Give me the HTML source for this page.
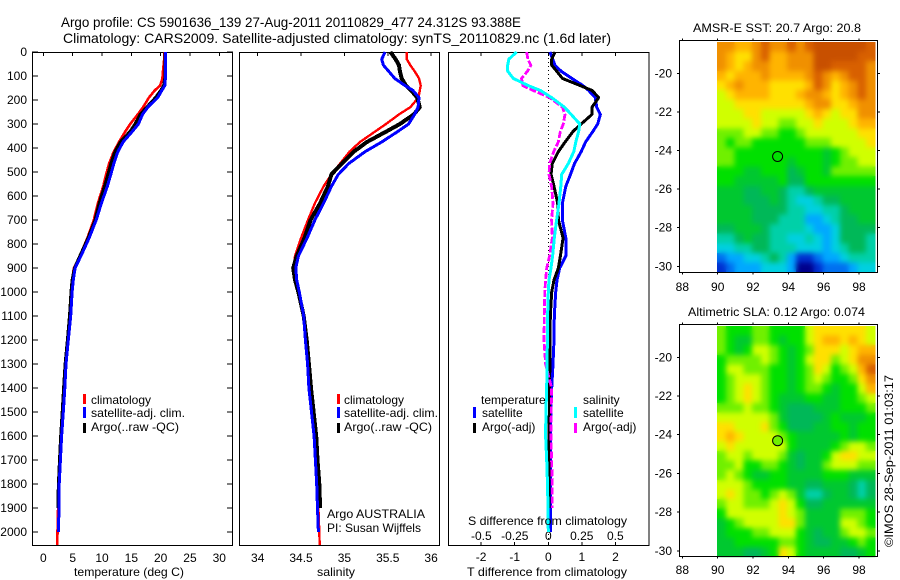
<!DOCTYPE html>
<html lang="en">
<head>
<meta charset="utf-8">
<title>Argo profile 5901636_139</title>
<style>
html,body{margin:0;padding:0;background:#fff}
svg{display:block}
text{font-family:"Liberation Sans",sans-serif;font-size:12px;fill:#000}
.title{font-size:14px}
</style>
</head>
<body>
<svg id="chart" xmlns="http://www.w3.org/2000/svg" width="900" height="580" viewBox="0 0 900 580">
  <defs>
    <filter id="map-smooth" x="0" y="0" width="1" height="1" color-interpolation-filters="sRGB">
      <feGaussianBlur in="SourceGraphic" stdDeviation="2.6" result="soft"/>
      <feMerge>
        <feMergeNode in="SourceGraphic"/>
        <feMergeNode in="soft"/>
      </feMerge>
    </filter>
  </defs>
  <rect x="0" y="0" width="900" height="580" fill="#fff"/>
  <text class="title" x="61" y="27" textLength="460" lengthAdjust="spacingAndGlyphs">Argo profile: CS 5901636_139 27-Aug-2011 20110829_477 24.312S 93.388E</text>
  <text class="title" x="63" y="43" textLength="548" lengthAdjust="spacingAndGlyphs">Climatology: CARS2009. Satellite-adjusted climatology: synTS_20110829.nc (1.6d later)</text>

  <g id="plots"></g>

  <text x="74" y="576" textLength="110" lengthAdjust="spacingAndGlyphs">temperature (deg C)</text>
  <text x="317" y="576" textLength="38" lengthAdjust="spacingAndGlyphs">salinity</text>
  <text x="467" y="576" textLength="160" lengthAdjust="spacingAndGlyphs">T difference from climatology</text>
  <text x="468" y="525" textLength="159" lengthAdjust="spacingAndGlyphs">S difference from climatology</text>

  <g>
    <rect x="83" y="394" width="3" height="10" fill="#f00"/>
    <text x="91" y="404">climatology</text>
    <rect x="83" y="407" width="3" height="11" fill="#00f"/>
    <text x="91" y="417" textLength="94" lengthAdjust="spacingAndGlyphs">satellite-adj. clim.</text>
    <rect x="83" y="423" width="3" height="10" fill="#000"/>
    <text x="91" y="431" textLength="88" lengthAdjust="spacingAndGlyphs">Argo(..raw -QC)</text>
  </g>
  <g>
    <rect x="337" y="394" width="3" height="10" fill="#f00"/>
    <text x="344" y="404">climatology</text>
    <rect x="337" y="407" width="3" height="11" fill="#00f"/>
    <text x="344" y="417" textLength="94" lengthAdjust="spacingAndGlyphs">satellite-adj. clim.</text>
    <rect x="337" y="423" width="3" height="10" fill="#000"/>
    <text x="344" y="431" textLength="88" lengthAdjust="spacingAndGlyphs">Argo(..raw -QC)</text>
    <text x="327" y="518" textLength="98" lengthAdjust="spacingAndGlyphs">Argo AUSTRALIA</text>
    <text x="327" y="532" textLength="94" lengthAdjust="spacingAndGlyphs">PI: Susan Wijffels</text>
  </g>
  <g>
    <text x="481" y="404">temperature</text>
    <rect x="473" y="407" width="3" height="11" fill="#00f"/>
    <text x="482" y="417">satellite</text>
    <rect x="473" y="423" width="3" height="10" fill="#000"/>
    <text x="482" y="431">Argo(-adj)</text>
    <text x="583" y="404">salinity</text>
    <rect x="574" y="407" width="3" height="11" fill="#0ff"/>
    <text x="583" y="417">satellite</text>
    <rect x="574" y="423" width="3" height="10" fill="#f0f"/>
    <text x="583" y="431">Argo(-adj)</text>
  </g>

  <text x="693" y="32" textLength="168" lengthAdjust="spacingAndGlyphs">AMSR-E SST: 20.7 Argo: 20.8</text>
  <text x="688" y="316" textLength="177" lengthAdjust="spacingAndGlyphs">Altimetric SLA: 0.12 Argo: 0.074</text>
  <text transform="translate(893,547) rotate(-90)" textLength="172" lengthAdjust="spacingAndGlyphs">©IMOS 28-Sep-2011 01:03:17</text>
</svg>

<script>
/* ---- profile data ---- */
const depths = [0,30,55,80,110,140,160,190,230,260,300,330,375,415,465,510,560,630,700,775,850,900,950,1000,1100,1200,1300,1400,1500,1600,1700,1800,1900,2000,2054];

const tempClim = [20.6,20.6,20.5,20.4,20.3,19.9,19.0,18.0,17.0,16.1,14.8,14.0,12.9,12.0,11.2,10.7,10.2,9.3,8.6,7.5,6.2,5.2,4.9,4.7,4.55,4.15,3.8,3.6,3.35,3.0,2.8,2.6,2.5,2.4,2.37];
const tempArgo = [20.7,20.7,20.7,20.7,20.7,20.5,20.0,19.1,17.6,16.5,15.6,14.8,13.1,12.2,11.5,11.0,10.4,9.5,8.8,7.6,6.2,5.3,4.9,4.7,4.45,4.1,3.7,3.45,3.2,2.95,2.75,2.55,2.45];
const tempSat = [20.8,20.8,20.8,20.8,20.8,20.7,20.2,19.5,17.8,16.9,16.2,15.2,13.6,12.7,12.0,11.5,10.9,9.9,9.0,7.8,6.4,5.4,5.1,4.9,4.65,4.25,3.86,3.65,3.4,3.1,2.9,2.7,2.66,2.55];

const salClim = [35.72,35.72,35.76,35.81,35.86,35.88,35.87,35.855,35.76,35.63,35.48,35.36,35.18,35.06,34.95,34.85,34.76,34.66,34.58,34.50,34.43,34.42,34.44,34.47,34.53,34.56,34.58,34.60,34.63,34.65,34.67,34.69,34.70,34.71,34.715];
const salArgo = [35.53,35.59,35.63,35.64,35.66,35.71,35.77,35.84,35.87,35.80,35.64,35.49,35.26,35.11,34.97,34.85,34.81,34.72,34.61,34.54,34.45,34.41,34.43,34.47,34.53,34.565,34.59,34.615,34.645,34.675,34.69,34.71,34.72];
const salSat = [35.47,35.43,35.45,35.51,35.58,35.70,35.79,35.86,35.85,35.81,35.74,35.62,35.43,35.24,35.05,34.93,34.85,34.76,34.66,34.57,34.47,34.44,34.45,34.48,34.53,34.55,34.575,34.59,34.62,34.65,34.665,34.68,34.69,34.70];

const dTempSat = [.05,.13,.2,.38,.7,1.03,1.2,1.40,1.44,1.55,1.47,1.33,1.11,.98,.78,.66,.52,.42,.42,.52,.52,.34,.26,.22,.18,.17,.14,.1,.08,.06,.06,.06,.06,.06];
const dTempArgo = [.2,.1,.1,.25,.42,.95,1.3,1.5,1.3,1.3,.98,.74,.5,.3,.12,.08,.17,.28,.3,.44,.36,.3,.17,.1,.06,.05,.05,.03,.03,.02,.02,.02,.02];
const dSalArgo = [-.161,-.152,-.13,-.155,-.2,-.19,-.115,.01,.105,.125,.112,.09,.075,.04,.01,.005,.025,.035,.025,.03,.01,-.012,-.02,-.026,-.03,-.032,-.02,.025,.022,.02,.025,.03,.03];
const dSalSat = [-.236,-.295,-.303,-.303,-.261,-.15,-.06,.025,.12,.17,.235,.227,.205,.19,.149,.1,.093,.08,.062,.045,.032,.02,.005,0,-.005,-.007,-.01,-.012,-.018,-.02,-.012,-.006,-.002,0];

/* ---- tick labels ---- */
const depthTicks = [0,100,200,300,400,500,600,700,800,900,1000,1100,1200,1300,1400,1500,1600,1700,1800,1900,2000];
const tempTicks = [0,5,10,15,20,25,30];
const salTicks = ['34','34.5','35','35.5','36'];
const dTempTicks = [-2,-1,0,1,2];
const dSalTicks = ['-0.5','-0.25','0','0.25','0.5'];
const lonTicks = [88,90,92,94,96,98];
const latTicks = [-20,-22,-24,-26,-28,-30];

/* ---- map cells: colour-scale level, north to south, 90E to 99E ---- */
const sstLevels = [
[13,13,12,12,13,14,13,13,14,13,14,15,15,15,15,15,15,14],
[13,12,11,11,13,14,12,12,13,13,13,15,15,15,15,15,14,14],
[13,12,11,12,13,13,12,12,13,13,13,15,15,14,14,14,14,13],
[12,11,12,12,12,13,12,12,12,12,13,14,13,12,13,14,14,13],
[11,12,13,12,12,12,11,11,11,11,12,14,13,11,12,13,14,13],
[10,11,12,12,12,12,11,11,11,12,13,13,12,11,12,13,14,13],
[10,10,11,11,11,11,11,11,11,11,12,13,13,11,11,12,13,13],
[10,10,10,11,11,10,10,10,10,10,11,12,11,10,11,11,13,13],
[10,10,10,10,11,10,10,9,9,10,10,11,10,10,10,11,12,12],
[9,9,9,10,10,9,9,8,8,9,10,10,10,10,10,10,11,11],
[9,8,9,9,8,8,8,8,8,8,9,9,9,10,10,10,10,11],
[9,9,8,8,8,8,8,8,8,8,8,8,7,8,9,10,10,10],
[9,9,8,8,8,8,8,8,7,8,8,8,7,8,9,9,10,10],
[8,8,8,7,7,8,8,8,6,7,8,8,7,9,9,9,9,9],
[8,8,7,7,7,7,7,8,6,6,8,8,8,8,8,8,8,8],
[7,7,7,6,6,7,7,6,5,5,6,7,7,7,7,7,7,7],
[7,7,7,6,6,6,7,6,5,4,4,5,6,6,7,7,7,7],
[7,7,7,7,6,6,6,6,5,5,4,4,5,5,6,7,7,7],
[7,7,7,7,6,6,6,5,5,5,3,3,4,5,6,6,7,7],
[6,6,7,7,7,6,5,5,5,5,4,3,3,4,6,6,6,6],
[5,5,6,7,6,6,5,5,4,4,5,4,3,4,6,6,6,5],
[4,4,5,5,6,6,5,5,5,4,4,4,3,4,5,6,6,5],
[2,3,3,4,4,5,6,5,3,1,1,2,3,3,4,5,5,5],
[1,2,3,3,3,4,4,4,3,0,0,1,2,2,2,3,4,4]
];
const slaLevels = [
[9,8,8,8,9,9,8,8,8,8,10,11,11,11,11,11,11,10],
[9,8,7,7,9,9,8,7,8,8,10,11,12,12,11,12,11,10],
[9,8,7,8,10,10,9,8,7,8,9,11,11,11,10,11,12,12],
[8,9,9,9,9,10,9,8,7,8,10,11,11,9,10,11,13,13],
[8,10,10,9,9,9,8,8,7,8,9,11,10,8,9,10,12,14],
[8,9,10,10,10,9,8,8,7,8,9,10,9,8,8,9,11,13],
[8,9,10,11,10,9,8,8,7,8,9,9,8,7,8,8,10,12],
[8,9,10,11,10,9,8,7,7,7,8,8,7,7,8,8,9,10],
[9,9,9,10,9,9,8,7,6,6,6,7,7,7,8,8,8,9],
[10,10,10,10,10,10,9,7,6,6,6,6,7,8,7,7,7,8],
[11,11,10,10,10,11,9,8,6,6,6,7,7,8,8,7,8,8],
[11,12,11,10,10,10,10,9,8,7,7,7,7,7,8,7,8,8],
[10,11,10,10,10,10,10,10,8,7,7,7,7,8,9,10,10,9],
[9,10,10,9,10,10,10,9,7,6,7,7,8,10,11,11,10,10],
[9,9,10,8,8,9,9,8,7,6,7,7,9,10,10,10,9,9],
[9,10,9,8,7,7,8,8,7,7,7,7,8,8,8,7,7,7],
[10,10,10,9,8,8,8,8,7,7,6,6,7,7,7,6,5,6],
[10,11,10,9,9,8,9,10,9,7,5,5,6,7,7,6,5,6],
[9,10,10,9,9,9,10,11,10,8,6,6,7,7,7,7,7,7],
[8,10,10,10,10,10,10,11,10,9,7,7,7,7,9,9,9,8],
[7,8,9,10,10,10,10,11,11,9,7,7,7,7,10,10,9,8],
[7,8,8,8,9,9,10,10,10,8,7,6,7,7,9,10,10,9],
[7,7,8,8,8,8,8,9,9,8,7,6,6,7,7,8,9,8],
[7,7,7,6,6,7,8,11,10,8,7,7,7,7,6,6,7,8]
];
const levelColours = ['#00008c','#0030d0','#0070f0','#00a8ff','#00d0e0','#00d0a8','#00b858','#00c830','#00e000','#70f000','#d0ff00','#ffe000','#ffb400','#f09000','#d86000','#c85000'];
const argoLon = 93.388;
const argoLat = -24.312;

/* ---- axis functions ---- */
const NS = 'http://www.w3.org/2000/svg';
const layer = document.getElementById('plots');
const yDepth = d => 52 + d * 0.24;
const xTemp = v => 43.4 + v * 5.863;
const xSal = v => 257.7 + (v - 34) * 86.7;
const xDT = v => 548.3 + v * 33.6;
const xDS = v => 548.3 + v * 134;
const xLon = v => 717.7 + (v - 90) * 17.67;
const sstTop = 42, slaTop = 326;
const yLatSst = v => 73.3 + (-20 - v) * 19.3;
const yLatSla = v => 357.3 + (-20 - v) * 19.35;

function make(tag, attrs, parent) {
  const el = document.createElementNS(NS, tag);
  for (const k in attrs) el.setAttribute(k, attrs[k]);
  (parent || layer).appendChild(el);
  return el;
}
function seg(x1, y1, x2, y2, parent) {
  const el = make('line', {x1: x1, y1: y1, x2: x2, y2: y2, stroke: '#000', 'stroke-width': 1, 'shape-rendering': 'crispEdges'}, parent);
  
  
  return el;
}
function label(str, x, y, anchor) {
  const el = make('text', {x: x, y: y, 'text-anchor': anchor || 'middle'});
  el.textContent = str;
  
  
  return el;
}
function frame(x, y, w, h, name) {
  const el = make('rect', {x: x, y: y, width: w, height: h, fill: 'none', stroke: '#000', 'stroke-width': 1.2, 'shape-rendering': 'crispEdges'});
  
  
  return el;
}
function profile(values, xFn, colour, width, name, dash) {
  const pts = values.map((v, i) => xFn(v).toFixed(1) + ',' + yDepth(depths[i]).toFixed(1)).join(' ');
  const el = make('polyline', {points: pts, fill: 'none', stroke: colour, 'stroke-width': width, 'stroke-linejoin': 'round', 'shape-rendering': 'crispEdges'});
  if (dash) el.setAttribute('stroke-dasharray', dash);
  
  
  return el;
}

/* ---- temperature panel ---- */
frame(32.5, 52.5, 200, 493, 'temperature-plot-frame');
depthTicks.forEach(d => {
  seg(32, yDepth(d), 38, yDepth(d));
  seg(227, yDepth(d), 233, yDepth(d));
  label(String(d), 27, yDepth(d) + 4, 'end');
});
tempTicks.forEach(t => {
  seg(xTemp(t), 52, xTemp(t), 56);
  label(String(t), xTemp(t), 562);
});
profile(tempClim, xTemp, '#f00', 2.6, 'temperature-climatology-line');
profile(tempArgo, xTemp, '#000', 3, 'temperature-argo-line');
profile(tempSat, xTemp, '#00f', 3, 'temperature-satellite-line');

/* ---- salinity panel ---- */
frame(239.5, 52.5, 200, 493, 'salinity-plot-frame');
salTicks.forEach(s => {
  const v = parseFloat(s);
  seg(xSal(v), 52, xSal(v), 56);
  label(s, xSal(v), 562);
});
profile(salClim, xSal, '#f00', 2.4, 'salinity-climatology-line');
profile(salArgo, xSal, '#000', 4, 'salinity-argo-line');
profile(salSat, xSal, '#00f', 3, 'salinity-satellite-line');

/* ---- difference panel ---- */
frame(448.5, 52.5, 200.5, 493, 'difference-plot-frame');
dTempTicks.forEach(t => {
  seg(xDT(t), 52, xDT(t), 56);
  seg(xDT(t), 542, xDT(t), 545);
  label(String(t), xDT(t), 561);
});
dSalTicks.forEach(s => {
  label(s, xDS(parseFloat(s)), 540);
});
const zeroLine = make('line', {x1: xDT(0), y1: 54, x2: xDT(0), y2: 545, stroke: '#000', 'stroke-width': 1, 'stroke-dasharray': '1 3', 'shape-rendering': 'crispEdges'});


profile(dTempSat, xDT, '#00f', 3, 'difference-t-satellite-line');
profile(dTempArgo, xDT, '#000', 3, 'difference-t-argo-line');
profile(dSalArgo, xDS, '#f0f', 2.8, 'difference-s-argo-line', '7 2');
profile(dSalSat, xDS, '#0ff', 3, 'difference-s-satellite-line');

/* ---- maps ---- */
function drawMap(levels, top, yLat, lonBase, frameTop, frameH, mapName, dotFill) {
  const rows = levels.length;
  const cols = levels[0].length;
  const left = 717;
  const cw = 158 / cols;
  const ch = (top === sstTop ? 230 : 230.7) / rows;
  const cells = make('g', {filter: 'url(#map-smooth)'});
  
  
  levels.forEach((row, r) => {
    row.forEach((lv, c) => {
      const cell = make('rect', {
        x: (left + c * cw).toFixed(2), y: (top + r * ch).toFixed(2),
        width: (cw + 0.4).toFixed(2), height: (ch + 0.4).toFixed(2),
        fill: levelColours[lv], 'shape-rendering': 'crispEdges'
      }, cells);
      
      
    });
  });
  frame(679.5, frameTop, 198, frameH, mapName + '-frame');
  lonTicks.forEach(lon => {
    seg(xLon(lon), frameTop - 2, xLon(lon), frameTop);
    seg(xLon(lon), frameTop + frameH, xLon(lon), frameTop + frameH + 2);
    label(String(lon), xLon(lon), lonBase);
  });
  latTicks.forEach(lat => {
    seg(677, yLat(lat), 679, yLat(lat));
    seg(878, yLat(lat), 880, yLat(lat));
    label(String(lat), 672, yLat(lat) + 4, 'end');
  });
  const dot = make('circle', {cx: xLon(argoLon).toFixed(1), cy: yLat(argoLat).toFixed(1), r: 5, fill: dotFill, stroke: '#000', 'stroke-width': 1});
  
  
}
drawMap(sstLevels, sstTop, yLatSst, 291, 40.5, 232, 'sst-map', levelColours[8]);
drawMap(slaLevels, slaTop, yLatSla, 574, 324.5, 232, 'sla-map', levelColours[9]);
</script>
</body>
</html>
